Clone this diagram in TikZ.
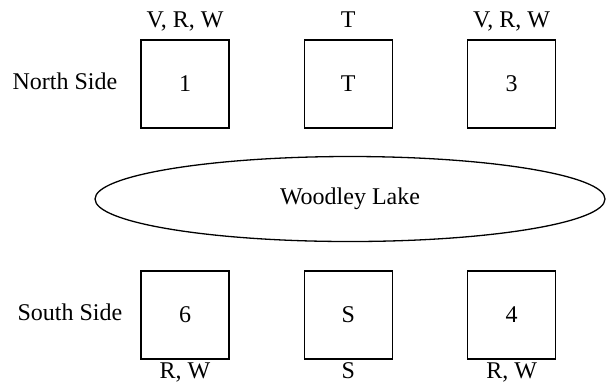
\documentclass[tikz,border=0pt]{standalone}
\usepackage{fontspec}
\setmainfont{Liberation Serif}
\usetikzlibrary{positioning,shapes.geometric}

\begin{document}
\begin{tikzpicture}[x=0.5pt,y=-0.5pt,
    lot/.style={rectangle,draw,line width=0.65pt,minimum size=44pt,inner sep=0pt},
    tag/.style={text height=1.5ex,text depth=.25ex},
    node distance=37pt,font=\fontsize{12}{14}\selectfont]
  \useasboundingbox (0,0) rectangle (608,387);
  % north side lots
  \node[lot] (l1) at (185,84) {1};
  \node[lot,right=of l1] (lT) {T};
  \node[lot,right=of lT] (l3) {3};
  % south side lots
  \node[lot] (l6) at (185,315) {6};
  \node[lot,right=of l6] (lS) {S};
  \node[lot,right=of lS] (l4) {4};
  % the lake
  \node[ellipse,draw,line width=0.65pt,minimum width=255pt,minimum height=42.5pt,inner sep=0pt] (lake) at (350,199) {Woodley Lake};
  % labels
  \node[tag,above=1pt of l1] (t1) {V, R, W};
  \node[tag,above=1pt of lT] (tT) {T};
  \node[tag,above=1pt of l3] (t3) {V, R, W};
  \node[tag,below=-1pt of l6] (t6) {R, W};
  \node[tag,below=-1pt of lS] (tS) {S};
  \node[tag,below=-1pt of l4] (t4) {R, W};
  \node[tag,left=8pt of l1] (north) {North Side};
  \node[tag,left=5.5pt of l6] (south) {South Side};
\end{tikzpicture}
\end{document}
